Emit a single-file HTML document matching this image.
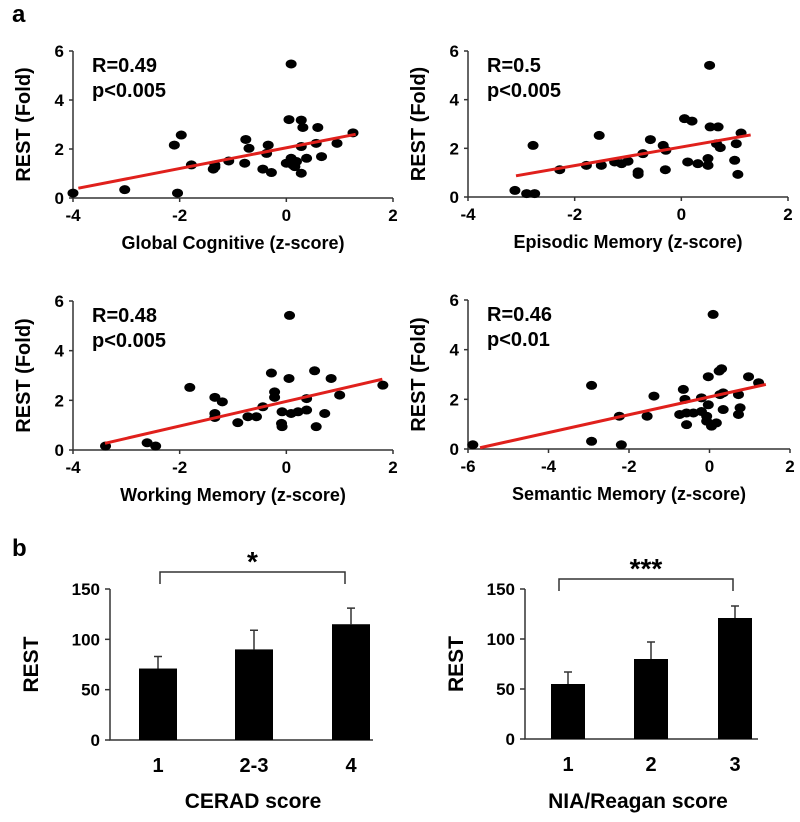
<!DOCTYPE html>
<html><head><meta charset="utf-8">
<style>
html,body{margin:0;padding:0;background:#fff;}
svg{display:block;font-family:"Liberation Sans",Arial,sans-serif;font-weight:bold;}
</style></head>
<body>
<svg id="fig" width="800" height="822" viewBox="0 0 800 822">
<text x="12" y="22" font-size="24">a</text>
<text x="12" y="556" font-size="24">b</text>
</svg>
<script>
// ---------- Scatter data ----------
const gcX=[-4,-3.03,-2.1,-1.97,-2.04,-1.78,-1.34,-1.34,-1.37,-1.08,-0.78,-0.76,-0.7,-0.44,-0.37,-0.34,-0.28,0.05,0.09,0,0.09,0.12,0.19,0.16,0.28,0.31,0.28,0.28,0.38,0.56,0.59,0.66,0.95,1.25];
const gcY=[0.2,0.34,2.16,2.57,0.2,1.35,1.26,1.35,1.18,1.51,1.42,2.39,2.03,1.18,1.82,2.16,1.04,3.2,5.47,1.42,1.62,1.35,1.49,1.28,3.18,2.88,2.1,1.01,1.62,2.23,2.88,1.69,2.23,2.66];
const gcLine=[[-3.9,0.4],[1.3,2.6]];
const emX=[-3.12,-2.9,-2.75,-2.78,-2.28,-1.78,-1.54,-1.5,-1.25,-1.12,-1,-0.81,-0.81,-0.72,-0.58,-0.34,-0.29,-0.3,0.06,0.2,0.12,0.31,0.53,0.5,0.5,0.54,0.69,0.66,0.73,1,1.03,1.06,1.12];
const emY=[0.27,0.14,0.14,2.12,1.12,1.3,2.53,1.3,1.44,1.37,1.47,1.03,0.93,1.78,2.36,2.12,1.92,1.12,3.22,3.12,1.44,1.37,5.41,1.58,1.3,2.88,2.88,2.19,2.03,1.51,2.19,0.93,2.63];
const emLine=[[-3.1,0.87],[1.3,2.55]];
const wmX=[-3.39,-2.61,-2.45,-1.81,-1.34,-1.2,-1.34,-1.34,-0.91,-0.72,-0.56,-0.44,-0.28,-0.22,-0.22,-0.08,-0.09,-0.08,0.06,0.05,0.09,0.22,0.38,0.38,0.53,0.56,0.72,0.84,1,1.81];
const wmY=[0.16,0.29,0.16,2.52,2.12,1.94,1.47,1.31,1.1,1.34,1.34,1.74,3.1,2.34,2.12,1.54,1.07,0.94,5.42,2.88,1.47,1.54,1.61,2.07,3.19,0.94,1.47,2.88,2.21,2.61];
const wmLine=[[-3.4,0.27],[1.8,2.85]];
const smX=[-5.88,-2.93,-2.93,-2.24,-2.19,-1.55,-1.38,-0.65,-0.61,-0.74,-0.57,-0.57,-0.4,-0.2,-0.2,-0.03,-0.07,-0.07,0.05,0.17,0.09,-0.03,0.24,0.3,0.26,0.34,0.34,0.72,0.76,0.72,0.97,1.22];
const smY=[0.17,2.56,0.31,1.32,0.17,1.32,2.13,2.4,2.0,1.39,1.45,0.98,1.45,2.06,1.51,1.78,1.32,1.12,0.92,1.05,5.42,2.91,3.14,3.23,2.19,2.26,1.59,2.19,1.66,1.39,2.91,2.67];
const smLine=[[-5.7,0.05],[1.4,2.6]];
const yTicksScatter=[0,2,4,6];
const xTicksA=[-4,-2,0,2];
const xTicksB=[-6,-4,-2,0,2];
// ---------- Bar data ----------
const ceradCats=["1","2-3","4"];
const ceradVals=[71,90,115];
const ceradErr=[12,19,16];
const niaCats=["1","2","3"];
const niaVals=[55,80,121];
const niaErr=[12,17,12];
const barTicks=[0,50,100,150];

const NS="http://www.w3.org/2000/svg";
const svg=document.getElementById('fig');
function mk(tag,attrs,parent,txt){const e=document.createElementNS(NS,tag);for(const k in attrs)e.setAttribute(k,attrs[k]);if(txt!==undefined)e.textContent=txt;(parent||svg).appendChild(e);return e;}

function scatter(c){
  const g=mk('g',{});
  
  
  const sx=v=>c.x0+(v-c.xmin)/(c.xmax-c.xmin)*(c.x1-c.x0);
  const sy=v=>c.y0-(v/6)*(c.y0-c.y1);
  const ax=mk('path',{d:`M${c.x0},${c.y1} V${c.y0} H${c.x1}`,stroke:'#333',fill:'none','stroke-width':1.5},g);
  
  
  c.yt.forEach(t=>{const y=sy(t);mk('line',{x1:c.x0-4,x2:c.x0,y1:y,y2:y,stroke:'#333','stroke-width':1.5},g);
    const tl=mk('text',{x:c.x0-9,y:y+6,'font-size':17,'text-anchor':'end'},g,String(t));
    
    });
  c.xt.forEach(t=>{const x=sx(t);mk('line',{x1:x,x2:x,y1:c.y0,y2:c.y0+4,stroke:'#333','stroke-width':1.5},g);
    const tl=mk('text',{x:x,y:c.y0+23,'font-size':17,'text-anchor':'middle'},g,String(t));
    
    });
  c.xs.forEach((v,i)=>{const p=mk('ellipse',{cx:sx(v),cy:sy(c.ys[i]),rx:5.5,ry:4.5,fill:'#000'},g);
    
    });
  const ln=mk('line',{x1:sx(c.line[0][0]),y1:sy(c.line[0][1]),x2:sx(c.line[1][0]),y2:sy(c.line[1][1]),stroke:'#e0201c','stroke-width':3},g);
  
  
  const r=mk('text',{x:c.x0+19,y:c.y1+21,'font-size':20},g,c.r);
  
  
  const p=mk('text',{x:c.x0+19,y:c.y1+46,'font-size':20},g,c.p);
  
  
  const yt=mk('text',{transform:`translate(${c.x0-43},${(c.y0+c.y1)/2}) rotate(-90)`,'font-size':20,'text-anchor':'middle'},g,'REST (Fold)');
  
  
  const xt=mk('text',{x:(c.x0+c.x1)/2,y:c.y0+51,'font-size':18,'text-anchor':'middle'},g,c.xl);
  
  
}
scatter({name:'global-cognitive-scatter',x0:73,x1:393,xmin:-4,xmax:2,y0:198,y1:51,xs:gcX,ys:gcY,line:gcLine,yt:yTicksScatter,xt:xTicksA,r:'R=0.49',p:'p<0.005',xl:'Global Cognitive (z-score)'});
scatter({name:'episodic-memory-scatter',x0:468,x1:788,xmin:-4,xmax:2,y0:197,y1:51,xs:emX,ys:emY,line:emLine,yt:yTicksScatter,xt:xTicksA,r:'R=0.5',p:'p<0.005',xl:'Episodic Memory (z-score)'});
scatter({name:'working-memory-scatter',x0:73,x1:393,xmin:-4,xmax:2,y0:450,y1:301,xs:wmX,ys:wmY,line:wmLine,yt:yTicksScatter,xt:xTicksA,r:'R=0.48',p:'p<0.005',xl:'Working Memory (z-score)'});
scatter({name:'semantic-memory-scatter',x0:468,x1:790,xmin:-6,xmax:2,y0:449,y1:300,xs:smX,ys:smY,line:smLine,yt:yTicksScatter,xt:xTicksB,r:'R=0.46',p:'p<0.01',xl:'Semantic Memory (z-score)'});

function bars(c){
  const g=mk('g',{});
  
  
  const sy=v=>c.y0-(v/150)*(c.y0-c.y1);
  const ax=mk('path',{d:`M${c.x0},${c.y1} V${c.y0} H${c.x1}`,stroke:'#333',fill:'none','stroke-width':1.5},g);
  
  
  barTicks.forEach(t=>{const y=sy(t);mk('line',{x1:c.x0-5,x2:c.x0,y1:y,y2:y,stroke:'#333','stroke-width':1.5},g);
    const tl=mk('text',{x:c.x0-10,y:y+6,'font-size':17,'text-anchor':'end'},g,String(t));
    
    });
  c.vals.forEach((v,i)=>{const cx=c.cx[i];
    const eb=mk('path',{d:`M${cx},${sy(v)} V${sy(v+c.err[i])} M${cx-4},${sy(v+c.err[i])} H${cx+4}`,stroke:'#333','stroke-width':1.5,fill:'none'},g);
    
    
    const b=mk('rect',{x:cx-c.bw/2,y:sy(v),width:c.bw,height:sy(0)-sy(v),fill:'#000'},g);
    
    
    const tl=mk('text',{x:cx,y:c.y0+32,'font-size':20,'text-anchor':'middle'},g,c.cats[i]);
    
    });
  const br=mk('path',{d:`M${c.bx[0]},${c.by+12} V${c.by} H${c.bx[1]} V${c.by+12}`,stroke:'#333',fill:'none','stroke-width':1.5},g);
  
  
  const st=mk('text',{x:(c.bx[0]+c.bx[1])/2,y:c.by-1,'font-size':28,'text-anchor':'middle'},g,c.star);
  
  
  const yt=mk('text',{transform:`translate(${c.x0-c.yto},${sy(75)}) rotate(-90)`,'font-size':21,'text-anchor':'middle'},g,'REST');
  
  
  const xt=mk('text',{x:c.xlx,y:808,'font-size':21,'text-anchor':'middle'},g,c.xl);
  
  
}
bars({name:'cerad-bar-chart',x0:110,x1:373,y0:740,y1:589,cats:ceradCats,vals:ceradVals,err:ceradErr,cx:[158,254,351],bw:38,bx:[160,345],by:572,star:'*',xl:'CERAD score',xlx:253,yto:72});
bars({name:'nia-reagan-bar-chart',x0:525,x1:758,y0:739,y1:589,cats:niaCats,vals:niaVals,err:niaErr,cx:[568,651,735],bw:34,bx:[559,733],by:579,star:'***',xl:'NIA/Reagan score',xlx:638,yto:62});
</script>
</body></html>
